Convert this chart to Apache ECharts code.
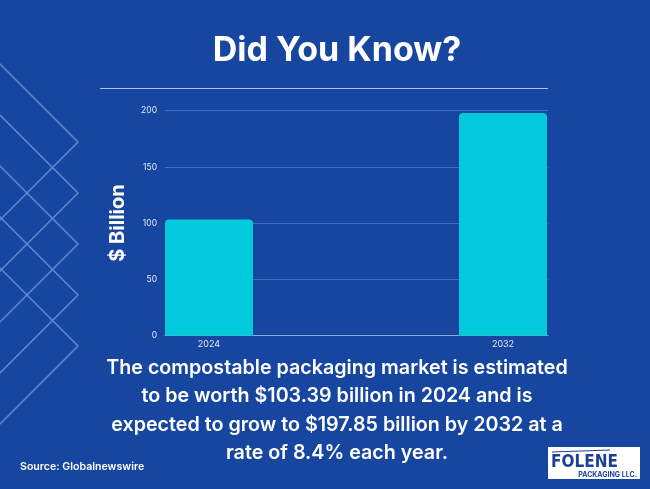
<!DOCTYPE html>
<html>
<head>
<meta charset="utf-8">
<script src="https://cdn.jsdelivr.net/npm/echarts@6/dist/echarts.min.js"></script>
<style>
html,body{margin:0;padding:0;background:#1646a0;}
#chart{width:650px;height:489px;}
</style>
</head>
<body>
<div id="chart"></div>
<script>
var categories = ['2024', '2032'];
var values = [103.39, 197.85];
var yTicks = [0, 50, 100, 150, 200];
var title = 'Did You Know?';
var yName = '$ Billion';
var bodyLines = [
  'The compostable packaging market is estimated',
  'to be worth $103.39 billion in 2024 and is',
  'expected to grow to $197.85 billion by 2032 at a',
  'rate of 8.4% each year.'
];
var sourceText = 'Source: Globalnewswire';

var FONT = 'Inter, "Open Sans", sans-serif';
var chart = echarts.init(document.getElementById('chart'), null, {renderer: 'canvas'});

var graphics = [];
// chevron pattern
[142, 193, 244, 295, 346].forEach(function (yv) {
  graphics.push({
    type: 'polyline', silent: true, z: 0,
    shape: {points: [[-2, yv - 80], [78, yv], [-2, yv + 80]]},
    style: {stroke: '#5f8ad2', lineWidth: 1.5, fill: null}
  });
});
// title rule
graphics.push({type: 'line', shape: {x1: 100, y1: 88.5, x2: 548, y2: 88.5}, style: {stroke: '#a9c2ec', lineWidth: 1.2}});
// y name
graphics.push({
  type: 'text', x: 118, y: 223, rotation: Math.PI / 2,
  style: {text: yName, fill: '#ffffff', font: 'bold 20px ' + FONT, textAlign: 'center', textVerticalAlign: 'middle'}
});
// body lines
var lineYs = [368, 396.5, 425, 453];
bodyLines.forEach(function (t, i) {
  graphics.push({
    type: 'text', x: 337, y: lineYs[i],
    style: {text: t, fill: '#ffffff', font: '600 19.7px ' + FONT, textAlign: 'center', textVerticalAlign: 'middle'}
  });
});
// source
graphics.push({
  type: 'text', x: 20, y: 467,
  style: {text: sourceText, fill: '#ffffff', font: '600 10.6px ' + FONT, textAlign: 'left', textVerticalAlign: 'middle'}
});
// logo
graphics.push({type: 'rect', shape: {x: 548, y: 447, width: 92, height: 32}, style: {fill: '#ffffff'}});
graphics.push({type: 'text', x: 551, y: 463, style: {text: 'FOLENE', fill: '#1d3f95', font: 'bold 17px "Liberation Sans Narrow", "DejaVu Sans Condensed", sans-serif', textAlign: 'left', textVerticalAlign: 'middle'}});
graphics.push({type: 'line', shape: {x1: 552, y1: 452, x2: 610, y2: 450}, style: {stroke: '#1d3f95', lineWidth: 1}});
graphics.push({type: 'text', x: 637, y: 474.5, style: {text: 'PACKAGING LLC.', fill: '#1d3f95', font: 'bold 7px ' + FONT, textAlign: 'right', textVerticalAlign: 'middle'}});

var option = {
  backgroundColor: '#1646a0',
  animation: false,
  title: {
    text: title, left: 332, top: 29, textAlign: 'center',
    textStyle: {color: '#ffffff', fontSize: 34, fontWeight: 'bold', fontFamily: FONT}
  },
  grid: [
    {left: 62, width: 589, top: 110.7, height: 225, containLabel: false},
    {left: 165, width: 383, top: 110.7, height: 225, containLabel: false}
  ],
  xAxis: [
    {
      type: 'category', gridIndex: 0, data: categories,
      axisLine: {show: false}, axisTick: {show: false},
      axisLabel: {color: '#e3eaf6', fontSize: 9, margin: 4, fontFamily: FONT}
    },
    {
      type: 'value', gridIndex: 1, min: 0, max: 1,
      axisLine: {show: true, lineStyle: {color: '#8aa8e0', width: 1}},
      axisTick: {show: false}, axisLabel: {show: false}, splitLine: {show: false}
    }
  ],
  yAxis: [
    {type: 'value', gridIndex: 0, min: 0, max: 200, show: false},
    {
      type: 'value', gridIndex: 1, min: 0, max: 200, interval: 50,
      axisLine: {show: false}, axisTick: {show: false},
      axisLabel: {color: '#e3eaf6', fontSize: 8.5, margin: 8, fontFamily: FONT},
      splitLine: {show: true, lineStyle: {color: '#3d6cc0', width: 1}}
    }
  ],
  series: [{
    type: 'bar', xAxisIndex: 0, yAxisIndex: 0, data: values,
    barWidth: 88, z: 3,
    itemStyle: {color: '#02c9dc', borderRadius: [4, 4, 0, 0]}
  }],
  graphic: graphics
};
chart.setOption(option);
</script>
</body>
</html>
